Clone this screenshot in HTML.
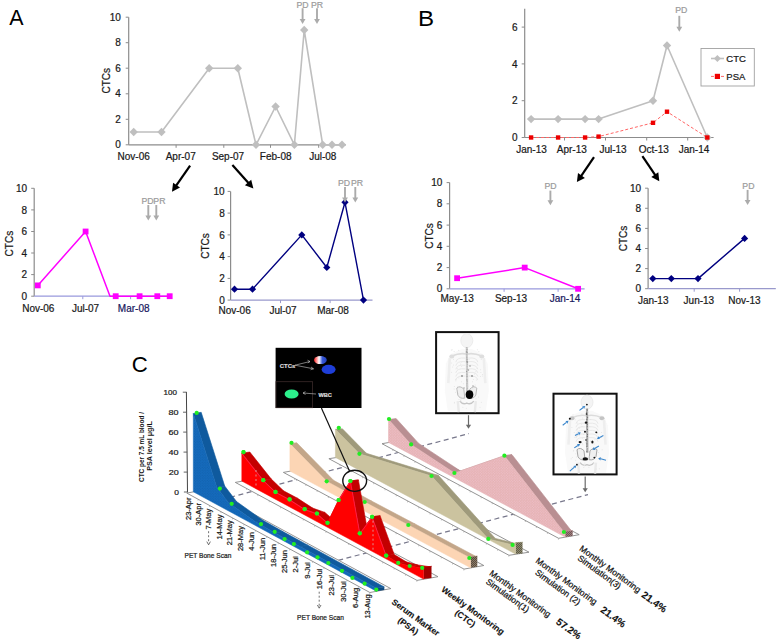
<!DOCTYPE html>
<html><head><meta charset="utf-8"><style>
html,body{margin:0;padding:0;background:#fff;overflow:hidden;}
svg{display:block;font-family:"Liberation Sans", sans-serif;}
</style></head><body>
<svg width="778" height="642" viewBox="0 0 778 642">
<rect width="778" height="642" fill="#fff"/>
<text x="16.5" y="25.4" font-size="21.4" fill="#000" stroke="none" text-anchor="middle">A</text>
<line x1="128.7" y1="17.2" x2="128.7" y2="144.8" stroke="#8c8c8c" stroke-width="1.2"/>
<line x1="125.69999999999999" y1="144.8" x2="128.7" y2="144.8" stroke="#8c8c8c" stroke-width="1"/>
<text x="120.8" y="148.4" font-size="10" text-anchor="end" fill="#1a1a1a" font-weight="normal"  stroke="#1a1a1a" stroke-width="0.22">0</text>
<line x1="125.69999999999999" y1="119.3" x2="128.7" y2="119.3" stroke="#8c8c8c" stroke-width="1"/>
<text x="120.8" y="122.9" font-size="10" text-anchor="end" fill="#1a1a1a" font-weight="normal"  stroke="#1a1a1a" stroke-width="0.22">2</text>
<line x1="125.69999999999999" y1="93.8" x2="128.7" y2="93.8" stroke="#8c8c8c" stroke-width="1"/>
<text x="120.8" y="97.4" font-size="10" text-anchor="end" fill="#1a1a1a" font-weight="normal"  stroke="#1a1a1a" stroke-width="0.22">4</text>
<line x1="125.69999999999999" y1="68.2" x2="128.7" y2="68.2" stroke="#8c8c8c" stroke-width="1"/>
<text x="120.8" y="71.8" font-size="10" text-anchor="end" fill="#1a1a1a" font-weight="normal"  stroke="#1a1a1a" stroke-width="0.22">6</text>
<line x1="125.69999999999999" y1="42.7" x2="128.7" y2="42.7" stroke="#8c8c8c" stroke-width="1"/>
<text x="120.8" y="46.3" font-size="10" text-anchor="end" fill="#1a1a1a" font-weight="normal"  stroke="#1a1a1a" stroke-width="0.22">8</text>
<line x1="125.69999999999999" y1="17.2" x2="128.7" y2="17.2" stroke="#8c8c8c" stroke-width="1"/>
<text x="120.8" y="20.8" font-size="10" text-anchor="end" fill="#1a1a1a" font-weight="normal"  stroke="#1a1a1a" stroke-width="0.22">10</text>
<text x="0" y="0" font-size="10" text-anchor="middle" fill="#1a1a1a" transform="translate(106.4,80.8) rotate(-90)" dominant-baseline="central" stroke="#1a1a1a" stroke-width="0.22">CTCs</text>
<line x1="128.7" y1="144.8" x2="345.8" y2="144.8" stroke="#8c8c8c" stroke-width="1.2"/>
<line x1="176.1" y1="144.8" x2="176.1" y2="147.8" stroke="#8c8c8c" stroke-width="1"/>
<line x1="223.8" y1="144.8" x2="223.8" y2="147.8" stroke="#8c8c8c" stroke-width="1"/>
<line x1="270.5" y1="144.8" x2="270.5" y2="147.8" stroke="#8c8c8c" stroke-width="1"/>
<line x1="318.7" y1="144.8" x2="318.7" y2="147.8" stroke="#8c8c8c" stroke-width="1"/>
<text x="133.7" y="160.0" font-size="10" text-anchor="middle" fill="#1a1a1a" font-weight="normal"  stroke="#1a1a1a" stroke-width="0.22">Nov-06</text>
<text x="180.7" y="160.0" font-size="10" text-anchor="middle" fill="#1a1a1a" font-weight="normal"  stroke="#1a1a1a" stroke-width="0.22">Apr-07</text>
<text x="228.0" y="160.0" font-size="10" text-anchor="middle" fill="#1a1a1a" font-weight="normal"  stroke="#1a1a1a" stroke-width="0.22">Sep-07</text>
<text x="275.7" y="160.0" font-size="10" text-anchor="middle" fill="#1a1a1a" font-weight="normal"  stroke="#1a1a1a" stroke-width="0.22">Feb-08</text>
<text x="322.8" y="160.0" font-size="10" text-anchor="middle" fill="#1a1a1a" font-weight="normal"  stroke="#1a1a1a" stroke-width="0.22">Jul-08</text>
<polyline points="133.7,132.0 161.5,132.0 209.2,68.2 237.8,68.2 256.0,144.8 275.6,106.5 294.4,144.8 304.2,30.0 322.7,144.8 332.0,144.8 342.0,144.8" fill="none" stroke="#bfbfbf" stroke-width="1.6"  stroke-linejoin="round"/>
<path d="M133.7 127.8L137.9 132.0L133.7 136.2L129.5 132.0Z" fill="#bfbfbf"/>
<path d="M161.5 127.8L165.7 132.0L161.5 136.2L157.3 132.0Z" fill="#bfbfbf"/>
<path d="M209.2 64.0L213.4 68.2L209.2 72.4L205.0 68.2Z" fill="#bfbfbf"/>
<path d="M237.8 64.0L242.0 68.2L237.8 72.4L233.6 68.2Z" fill="#bfbfbf"/>
<path d="M256.0 140.6L260.2 144.8L256.0 149.0L251.8 144.8Z" fill="#bfbfbf"/>
<path d="M275.6 102.3L279.8 106.5L275.6 110.7L271.4 106.5Z" fill="#bfbfbf"/>
<path d="M294.4 140.6L298.6 144.8L294.4 149.0L290.2 144.8Z" fill="#bfbfbf"/>
<path d="M304.2 25.8L308.4 30.0L304.2 34.2L300.0 30.0Z" fill="#bfbfbf"/>
<path d="M322.7 140.6L326.9 144.8L322.7 149.0L318.5 144.8Z" fill="#bfbfbf"/>
<path d="M332.0 140.6L336.2 144.8L332.0 149.0L327.8 144.8Z" fill="#bfbfbf"/>
<path d="M342.0 140.6L346.2 144.8L342.0 149.0L337.8 144.8Z" fill="#bfbfbf"/>
<text x="302.6" y="8.0" font-size="8.2" text-anchor="middle" fill="#9c9c9c" font-weight="normal" textLength="12.1" lengthAdjust="spacingAndGlyphs" stroke="#9c9c9c" stroke-width="0.22">PD</text>
<line x1="302.6" y1="8.2" x2="302.6" y2="21" stroke="#ababab" stroke-width="1.9"/>
<path d="M299.70000000000005 19L305.5 19L302.6 24Z" fill="#ababab"/>
<text x="317.0" y="8.0" font-size="8.2" text-anchor="middle" fill="#9c9c9c" font-weight="normal" textLength="12.1" lengthAdjust="spacingAndGlyphs" stroke="#9c9c9c" stroke-width="0.22">PR</text>
<line x1="317" y1="8.2" x2="317" y2="21" stroke="#ababab" stroke-width="1.9"/>
<path d="M314.1 19L319.9 19L317 24Z" fill="#ababab"/>
<line x1="34.2" y1="188.3" x2="34.2" y2="296.2" stroke="#8c8c8c" stroke-width="1.2"/>
<line x1="31.200000000000003" y1="296.2" x2="34.2" y2="296.2" stroke="#8c8c8c" stroke-width="1"/>
<text x="27.0" y="299.8" font-size="10" text-anchor="end" fill="#1a1a1a" font-weight="normal"  stroke="#1a1a1a" stroke-width="0.22">0</text>
<line x1="31.200000000000003" y1="274.6" x2="34.2" y2="274.6" stroke="#8c8c8c" stroke-width="1"/>
<text x="27.0" y="278.2" font-size="10" text-anchor="end" fill="#1a1a1a" font-weight="normal"  stroke="#1a1a1a" stroke-width="0.22">2</text>
<line x1="31.200000000000003" y1="253.0" x2="34.2" y2="253.0" stroke="#8c8c8c" stroke-width="1"/>
<text x="27.0" y="256.6" font-size="10" text-anchor="end" fill="#1a1a1a" font-weight="normal"  stroke="#1a1a1a" stroke-width="0.22">4</text>
<line x1="31.200000000000003" y1="231.5" x2="34.2" y2="231.5" stroke="#8c8c8c" stroke-width="1"/>
<text x="27.0" y="235.1" font-size="10" text-anchor="end" fill="#1a1a1a" font-weight="normal"  stroke="#1a1a1a" stroke-width="0.22">6</text>
<line x1="31.200000000000003" y1="209.9" x2="34.2" y2="209.9" stroke="#8c8c8c" stroke-width="1"/>
<text x="27.0" y="213.5" font-size="10" text-anchor="end" fill="#1a1a1a" font-weight="normal"  stroke="#1a1a1a" stroke-width="0.22">8</text>
<line x1="31.200000000000003" y1="188.3" x2="34.2" y2="188.3" stroke="#8c8c8c" stroke-width="1"/>
<text x="27.0" y="191.9" font-size="10" text-anchor="end" fill="#1a1a1a" font-weight="normal"  stroke="#1a1a1a" stroke-width="0.22">10</text>
<text x="0" y="0" font-size="10" text-anchor="middle" fill="#1a1a1a" transform="translate(9,243.6) rotate(-90)" dominant-baseline="central" stroke="#1a1a1a" stroke-width="0.22">CTCs</text>
<line x1="34.2" y1="296.2" x2="172" y2="296.2" stroke="#9999dd" stroke-width="1.2"/>
<line x1="82.8" y1="296.2" x2="82.8" y2="299.2" stroke="#9999dd" stroke-width="1"/>
<line x1="130.6" y1="296.2" x2="130.6" y2="299.2" stroke="#9999dd" stroke-width="1"/>
<text x="38.3" y="312.0" font-size="10" text-anchor="middle" fill="#1a1a1a" font-weight="normal"  stroke="#1a1a1a" stroke-width="0.22">Nov-06</text>
<text x="85.5" y="312.0" font-size="10" text-anchor="middle" fill="#1a1a1a" font-weight="normal"  stroke="#1a1a1a" stroke-width="0.22">Jul-07</text>
<text x="133.7" y="312.0" font-size="10" text-anchor="middle" fill="#18185e" font-weight="normal"  stroke="#18185e" stroke-width="0.22">Mar-08</text>
<polyline points="37.8,285.4 85.6,231.5 110.0,296.2 169.7,296.2" fill="none" stroke="#ff00ff" stroke-width="1.5"  stroke-linejoin="round"/>
<rect x="34.9" y="282.5" width="5.8" height="5.8" fill="#ff00ff"/>
<rect x="82.7" y="228.6" width="5.8" height="5.8" fill="#ff00ff"/>
<rect x="112.8" y="293.3" width="5.8" height="5.8" fill="#ff00ff"/>
<rect x="136.7" y="293.3" width="5.8" height="5.8" fill="#ff00ff"/>
<rect x="154.4" y="293.3" width="5.8" height="5.8" fill="#ff00ff"/>
<rect x="166.8" y="293.3" width="5.8" height="5.8" fill="#ff00ff"/>
<text x="147.6" y="203.7" font-size="8.2" text-anchor="middle" fill="#9c9c9c" font-weight="normal" textLength="12.1" lengthAdjust="spacingAndGlyphs" stroke="#9c9c9c" stroke-width="0.22">PD</text>
<line x1="148.3" y1="205" x2="148.3" y2="217.4" stroke="#ababab" stroke-width="1.9"/>
<path d="M145.4 215.4L151.20000000000002 215.4L148.3 220.4Z" fill="#ababab"/>
<text x="159.4" y="203.7" font-size="8.2" text-anchor="middle" fill="#9c9c9c" font-weight="normal" textLength="12.1" lengthAdjust="spacingAndGlyphs" stroke="#9c9c9c" stroke-width="0.22">PR</text>
<line x1="156.3" y1="205" x2="156.3" y2="217.4" stroke="#ababab" stroke-width="1.9"/>
<path d="M153.4 215.4L159.20000000000002 215.4L156.3 220.4Z" fill="#ababab"/>
<line x1="230.6" y1="191.4" x2="230.6" y2="300.1" stroke="#8c8c8c" stroke-width="1.2"/>
<line x1="227.6" y1="300.1" x2="230.6" y2="300.1" stroke="#8c8c8c" stroke-width="1"/>
<text x="224.7" y="303.7" font-size="10" text-anchor="end" fill="#1a1a1a" font-weight="normal"  stroke="#1a1a1a" stroke-width="0.22">0</text>
<line x1="227.6" y1="278.4" x2="230.6" y2="278.4" stroke="#8c8c8c" stroke-width="1"/>
<text x="224.7" y="282.0" font-size="10" text-anchor="end" fill="#1a1a1a" font-weight="normal"  stroke="#1a1a1a" stroke-width="0.22">2</text>
<line x1="227.6" y1="256.6" x2="230.6" y2="256.6" stroke="#8c8c8c" stroke-width="1"/>
<text x="224.7" y="260.2" font-size="10" text-anchor="end" fill="#1a1a1a" font-weight="normal"  stroke="#1a1a1a" stroke-width="0.22">4</text>
<line x1="227.6" y1="234.9" x2="230.6" y2="234.9" stroke="#8c8c8c" stroke-width="1"/>
<text x="224.7" y="238.5" font-size="10" text-anchor="end" fill="#1a1a1a" font-weight="normal"  stroke="#1a1a1a" stroke-width="0.22">6</text>
<line x1="227.6" y1="213.1" x2="230.6" y2="213.1" stroke="#8c8c8c" stroke-width="1"/>
<text x="224.7" y="216.7" font-size="10" text-anchor="end" fill="#1a1a1a" font-weight="normal"  stroke="#1a1a1a" stroke-width="0.22">8</text>
<line x1="227.6" y1="191.4" x2="230.6" y2="191.4" stroke="#8c8c8c" stroke-width="1"/>
<text x="224.7" y="195.0" font-size="10" text-anchor="end" fill="#1a1a1a" font-weight="normal"  stroke="#1a1a1a" stroke-width="0.22">10</text>
<text x="0" y="0" font-size="10" text-anchor="middle" fill="#1a1a1a" transform="translate(205.4,246) rotate(-90)" dominant-baseline="central" stroke="#1a1a1a" stroke-width="0.22">CTCs</text>
<line x1="230.6" y1="300.1" x2="372.5" y2="300.1" stroke="#9999cc" stroke-width="1.2"/>
<line x1="280.5" y1="300.1" x2="280.5" y2="303.1" stroke="#9999cc" stroke-width="1"/>
<line x1="330.1" y1="300.1" x2="330.1" y2="303.1" stroke="#9999cc" stroke-width="1"/>
<text x="234.6" y="314.0" font-size="10" text-anchor="middle" fill="#1a1a1a" font-weight="normal"  stroke="#1a1a1a" stroke-width="0.22">Nov-06</text>
<text x="283.0" y="314.0" font-size="10" text-anchor="middle" fill="#1a1a1a" font-weight="normal"  stroke="#1a1a1a" stroke-width="0.22">Jul-07</text>
<text x="333.0" y="314.0" font-size="10" text-anchor="middle" fill="#1a1a1a" font-weight="normal"  stroke="#1a1a1a" stroke-width="0.22">Mar-08</text>
<polyline points="234.5,289.2 252.5,289.2 301.8,234.9 326.8,267.5 345.0,202.3 363.5,300.1" fill="none" stroke="#000080" stroke-width="1.4"  stroke-linejoin="round"/>
<path d="M234.5 285.6L238.1 289.2L234.5 292.8L230.9 289.2Z" fill="#000080"/>
<path d="M252.5 285.6L256.1 289.2L252.5 292.8L248.9 289.2Z" fill="#000080"/>
<path d="M301.8 231.3L305.4 234.9L301.8 238.5L298.2 234.9Z" fill="#000080"/>
<path d="M326.8 263.9L330.4 267.5L326.8 271.1L323.2 267.5Z" fill="#000080"/>
<path d="M345.0 198.7L348.6 202.3L345.0 205.9L341.4 202.3Z" fill="#000080"/>
<path d="M363.5 296.5L367.1 300.1L363.5 303.7L359.9 300.1Z" fill="#000080"/>
<text x="344.1" y="185.7" font-size="8.2" text-anchor="middle" fill="#9c9c9c" font-weight="normal" textLength="12.1" lengthAdjust="spacingAndGlyphs" stroke="#9c9c9c" stroke-width="0.22">PD</text>
<line x1="345" y1="187" x2="345" y2="199.4" stroke="#ababab" stroke-width="1.9"/>
<path d="M342.1 197.4L347.9 197.4L345 202.4Z" fill="#ababab"/>
<text x="357.1" y="185.7" font-size="8.2" text-anchor="middle" fill="#9c9c9c" font-weight="normal" textLength="12.1" lengthAdjust="spacingAndGlyphs" stroke="#9c9c9c" stroke-width="0.22">PR</text>
<line x1="355.3" y1="187" x2="355.3" y2="199.4" stroke="#ababab" stroke-width="1.9"/>
<path d="M352.40000000000003 197.4L358.2 197.4L355.3 202.4Z" fill="#ababab"/>
<line x1="190.1" y1="165.6" x2="176.0" y2="185.9" stroke="#000" stroke-width="2.2"/><path d="M172.0 191.7L173.1 182.7L180.0 187.5Z" fill="#000"/>
<line x1="232.4" y1="164.9" x2="248.7" y2="183.3" stroke="#000" stroke-width="2.2"/><path d="M253.4 188.5L244.9 185.3L251.2 179.7Z" fill="#000"/>
<text x="418.1" y="25.7" font-size="21.5" fill="#000" stroke="none" textLength="16.1" lengthAdjust="spacingAndGlyphs">B</text>
<line x1="524.7" y1="8.7" x2="524.7" y2="137.5" stroke="#8c8c8c" stroke-width="1.2"/>
<line x1="521.7" y1="137.5" x2="524.7" y2="137.5" stroke="#8c8c8c" stroke-width="1"/>
<text x="517.5" y="141.1" font-size="10" text-anchor="end" fill="#1a1a1a" font-weight="normal"  stroke="#1a1a1a" stroke-width="0.22">0</text>
<line x1="521.7" y1="100.7" x2="524.7" y2="100.7" stroke="#8c8c8c" stroke-width="1"/>
<text x="517.5" y="104.3" font-size="10" text-anchor="end" fill="#1a1a1a" font-weight="normal"  stroke="#1a1a1a" stroke-width="0.22">2</text>
<line x1="521.7" y1="63.9" x2="524.7" y2="63.9" stroke="#8c8c8c" stroke-width="1"/>
<text x="517.5" y="67.5" font-size="10" text-anchor="end" fill="#1a1a1a" font-weight="normal"  stroke="#1a1a1a" stroke-width="0.22">4</text>
<line x1="521.7" y1="27.1" x2="524.7" y2="27.1" stroke="#8c8c8c" stroke-width="1"/>
<text x="517.5" y="30.7" font-size="10" text-anchor="end" fill="#1a1a1a" font-weight="normal"  stroke="#1a1a1a" stroke-width="0.22">6</text>
<line x1="524.7" y1="137.5" x2="713.6" y2="137.5" stroke="#8c8c8c" stroke-width="1.2"/>
<line x1="564.5" y1="137.5" x2="564.5" y2="140.5" stroke="#8c8c8c" stroke-width="1"/>
<line x1="605.5" y1="137.5" x2="605.5" y2="140.5" stroke="#8c8c8c" stroke-width="1"/>
<line x1="646.7" y1="137.5" x2="646.7" y2="140.5" stroke="#8c8c8c" stroke-width="1"/>
<line x1="687.7" y1="137.5" x2="687.7" y2="140.5" stroke="#8c8c8c" stroke-width="1"/>
<text x="531.5" y="153.0" font-size="10" text-anchor="middle" fill="#1a1a1a" font-weight="normal"  stroke="#1a1a1a" stroke-width="0.22">Jan-13</text>
<text x="571.8" y="153.0" font-size="10" text-anchor="middle" fill="#1a1a1a" font-weight="normal"  stroke="#1a1a1a" stroke-width="0.22">Apr-13</text>
<text x="613.0" y="153.0" font-size="10" text-anchor="middle" fill="#1a1a1a" font-weight="normal"  stroke="#1a1a1a" stroke-width="0.22">Jul-13</text>
<text x="653.8" y="153.0" font-size="10" text-anchor="middle" fill="#1a1a1a" font-weight="normal"  stroke="#1a1a1a" stroke-width="0.22">Oct-13</text>
<text x="694.0" y="153.0" font-size="10" text-anchor="middle" fill="#1a1a1a" font-weight="normal"  stroke="#1a1a1a" stroke-width="0.22">Jan-14</text>
<polyline points="531.1,119.1 558.1,119.1 585.1,119.1 598.6,119.1 653.0,100.7 667.0,45.5 707.3,137.5" fill="none" stroke="#bfbfbf" stroke-width="1.6"  stroke-linejoin="round"/>
<path d="M531.1 114.9L535.3 119.1L531.1 123.3L526.9 119.1Z" fill="#bfbfbf"/>
<path d="M558.1 114.9L562.3 119.1L558.1 123.3L553.9 119.1Z" fill="#bfbfbf"/>
<path d="M585.1 114.9L589.3 119.1L585.1 123.3L580.9 119.1Z" fill="#bfbfbf"/>
<path d="M598.6 114.9L602.8 119.1L598.6 123.3L594.4 119.1Z" fill="#bfbfbf"/>
<path d="M653.0 96.5L657.2 100.7L653.0 104.9L648.8 100.7Z" fill="#bfbfbf"/>
<path d="M667.0 41.3L671.2 45.5L667.0 49.7L662.8 45.5Z" fill="#bfbfbf"/>
<path d="M707.3 133.3L711.5 137.5L707.3 141.7L703.1 137.5Z" fill="#bfbfbf"/>
<polyline points="531.1,137.5 558.1,137.5 585.1,137.5 598.6,136.6 653.0,122.8 667.0,111.7 707.3,137.5" fill="none" stroke="#ff6666" stroke-width="1" stroke-dasharray="3,2" stroke-linejoin="round"/>
<rect x="528.9" y="135.3" width="4.4" height="4.4" fill="#ee0000"/>
<rect x="555.9" y="135.3" width="4.4" height="4.4" fill="#ee0000"/>
<rect x="582.9" y="135.3" width="4.4" height="4.4" fill="#ee0000"/>
<rect x="596.4" y="134.4" width="4.4" height="4.4" fill="#ee0000"/>
<rect x="650.8" y="120.6" width="4.4" height="4.4" fill="#ee0000"/>
<rect x="664.8" y="109.5" width="4.4" height="4.4" fill="#ee0000"/>
<rect x="705.1" y="135.3" width="4.4" height="4.4" fill="#ee0000"/>
<text x="681.2" y="12.7" font-size="8.2" text-anchor="middle" fill="#9c9c9c" font-weight="normal" textLength="12.1" lengthAdjust="spacingAndGlyphs" stroke="#9c9c9c" stroke-width="0.22">PD</text>
<line x1="679.3" y1="15.8" x2="679.3" y2="28.8" stroke="#ababab" stroke-width="1.9"/>
<path d="M676.4 26.8L682.1999999999999 26.8L679.3 31.8Z" fill="#ababab"/>
<rect x="701" y="48.5" width="53.3" height="37.5" fill="#fff" stroke="#a0a0a0" stroke-width="0.9"/>
<line x1="711" y1="58.5" x2="724" y2="58.5" stroke="#bfbfbf" stroke-width="1.6"/><path d="M717.4 55.0L720.9 58.5L717.4 62.0L713.9 58.5Z" fill="#bfbfbf"/>
<text x="726.3" y="62.0" font-size="9.5" text-anchor="start" fill="#1a1a1a" font-weight="normal"  stroke="#1a1a1a" stroke-width="0.22">CTC</text>
<line x1="711" y1="76.4" x2="724" y2="76.4" stroke="#ff6666" stroke-width="1" stroke-dasharray="3,2"/><rect x="714.8" y="73.8" width="5.2" height="5.2" fill="#ee0000"/>
<text x="726.3" y="80.0" font-size="9.5" text-anchor="start" fill="#1a1a1a" font-weight="normal"  stroke="#1a1a1a" stroke-width="0.22">PSA</text>
<line x1="449.6" y1="182.6" x2="449.6" y2="288.8" stroke="#8c8c8c" stroke-width="1.2"/>
<line x1="446.6" y1="288.8" x2="449.6" y2="288.8" stroke="#8c8c8c" stroke-width="1"/>
<text x="442.4" y="292.4" font-size="10" text-anchor="end" fill="#1a1a1a" font-weight="normal"  stroke="#1a1a1a" stroke-width="0.22">0</text>
<line x1="446.6" y1="267.6" x2="449.6" y2="267.6" stroke="#8c8c8c" stroke-width="1"/>
<text x="442.4" y="271.2" font-size="10" text-anchor="end" fill="#1a1a1a" font-weight="normal"  stroke="#1a1a1a" stroke-width="0.22">2</text>
<line x1="446.6" y1="246.3" x2="449.6" y2="246.3" stroke="#8c8c8c" stroke-width="1"/>
<text x="442.4" y="249.9" font-size="10" text-anchor="end" fill="#1a1a1a" font-weight="normal"  stroke="#1a1a1a" stroke-width="0.22">4</text>
<line x1="446.6" y1="225.1" x2="449.6" y2="225.1" stroke="#8c8c8c" stroke-width="1"/>
<text x="442.4" y="228.7" font-size="10" text-anchor="end" fill="#1a1a1a" font-weight="normal"  stroke="#1a1a1a" stroke-width="0.22">6</text>
<line x1="446.6" y1="203.8" x2="449.6" y2="203.8" stroke="#8c8c8c" stroke-width="1"/>
<text x="442.4" y="207.4" font-size="10" text-anchor="end" fill="#1a1a1a" font-weight="normal"  stroke="#1a1a1a" stroke-width="0.22">8</text>
<line x1="446.6" y1="182.6" x2="449.6" y2="182.6" stroke="#8c8c8c" stroke-width="1"/>
<text x="442.4" y="186.2" font-size="10" text-anchor="end" fill="#1a1a1a" font-weight="normal"  stroke="#1a1a1a" stroke-width="0.22">10</text>
<text x="0" y="0" font-size="10" text-anchor="middle" fill="#1a1a1a" transform="translate(429.8,236) rotate(-90)" dominant-baseline="central" stroke="#1a1a1a" stroke-width="0.22">CTCs</text>
<line x1="449.6" y1="288.8" x2="584.6" y2="288.8" stroke="#9999dd" stroke-width="1.2"/>
<line x1="504.1" y1="288.8" x2="504.1" y2="291.8" stroke="#9999dd" stroke-width="1"/>
<line x1="558.1" y1="288.8" x2="558.1" y2="291.8" stroke="#9999dd" stroke-width="1"/>
<text x="457.2" y="302.0" font-size="10" text-anchor="middle" fill="#1a1a1a" font-weight="normal"  stroke="#1a1a1a" stroke-width="0.22">May-13</text>
<text x="511.0" y="302.0" font-size="10" text-anchor="middle" fill="#1a1a1a" font-weight="normal"  stroke="#1a1a1a" stroke-width="0.22">Sep-13</text>
<text x="565.0" y="302.0" font-size="10" text-anchor="middle" fill="#18185e" font-weight="normal"  stroke="#18185e" stroke-width="0.22">Jan-14</text>
<polyline points="457.1,278.2 524.7,267.6 578.1,288.8" fill="none" stroke="#ff00ff" stroke-width="1.5"  stroke-linejoin="round"/>
<rect x="454.2" y="275.3" width="5.8" height="5.8" fill="#ff00ff"/>
<rect x="521.8" y="264.7" width="5.8" height="5.8" fill="#ff00ff"/>
<rect x="575.2" y="285.9" width="5.8" height="5.8" fill="#ff00ff"/>
<text x="550.6" y="188.6" font-size="8.2" text-anchor="middle" fill="#9c9c9c" font-weight="normal" textLength="12.1" lengthAdjust="spacingAndGlyphs" stroke="#9c9c9c" stroke-width="0.22">PD</text>
<line x1="550.4" y1="190.6" x2="550.4" y2="202.3" stroke="#ababab" stroke-width="1.9"/>
<path d="M547.5 200.3L553.3 200.3L550.4 205.3Z" fill="#ababab"/>
<line x1="648.1" y1="188.2" x2="648.1" y2="288.7" stroke="#8c8c8c" stroke-width="1.2"/>
<line x1="645.1" y1="288.7" x2="648.1" y2="288.7" stroke="#8c8c8c" stroke-width="1"/>
<text x="641.0" y="292.3" font-size="10" text-anchor="end" fill="#1a1a1a" font-weight="normal"  stroke="#1a1a1a" stroke-width="0.22">0</text>
<line x1="645.1" y1="268.6" x2="648.1" y2="268.6" stroke="#8c8c8c" stroke-width="1"/>
<text x="641.0" y="272.2" font-size="10" text-anchor="end" fill="#1a1a1a" font-weight="normal"  stroke="#1a1a1a" stroke-width="0.22">2</text>
<line x1="645.1" y1="248.5" x2="648.1" y2="248.5" stroke="#8c8c8c" stroke-width="1"/>
<text x="641.0" y="252.1" font-size="10" text-anchor="end" fill="#1a1a1a" font-weight="normal"  stroke="#1a1a1a" stroke-width="0.22">4</text>
<line x1="645.1" y1="228.4" x2="648.1" y2="228.4" stroke="#8c8c8c" stroke-width="1"/>
<text x="641.0" y="232.0" font-size="10" text-anchor="end" fill="#1a1a1a" font-weight="normal"  stroke="#1a1a1a" stroke-width="0.22">6</text>
<line x1="645.1" y1="208.3" x2="648.1" y2="208.3" stroke="#8c8c8c" stroke-width="1"/>
<text x="641.0" y="211.9" font-size="10" text-anchor="end" fill="#1a1a1a" font-weight="normal"  stroke="#1a1a1a" stroke-width="0.22">8</text>
<line x1="645.1" y1="188.2" x2="648.1" y2="188.2" stroke="#8c8c8c" stroke-width="1"/>
<text x="641.0" y="191.8" font-size="10" text-anchor="end" fill="#1a1a1a" font-weight="normal"  stroke="#1a1a1a" stroke-width="0.22">10</text>
<text x="0" y="0" font-size="10" text-anchor="middle" fill="#1a1a1a" transform="translate(623.9,238.5) rotate(-90)" dominant-baseline="central" stroke="#1a1a1a" stroke-width="0.22">CTCs</text>
<line x1="648.1" y1="288.7" x2="775.8" y2="288.7" stroke="#9999cc" stroke-width="1.2"/>
<line x1="694.2" y1="288.7" x2="694.2" y2="291.7" stroke="#9999cc" stroke-width="1"/>
<line x1="739.6" y1="288.7" x2="739.6" y2="291.7" stroke="#9999cc" stroke-width="1"/>
<text x="653.2" y="304.0" font-size="10" text-anchor="middle" fill="#1a1a1a" font-weight="normal"  stroke="#1a1a1a" stroke-width="0.22">Jan-13</text>
<text x="698.9" y="304.0" font-size="10" text-anchor="middle" fill="#1a1a1a" font-weight="normal"  stroke="#1a1a1a" stroke-width="0.22">Jun-13</text>
<text x="744.4" y="304.0" font-size="10" text-anchor="middle" fill="#1a1a1a" font-weight="normal"  stroke="#1a1a1a" stroke-width="0.22">Nov-13</text>
<polyline points="652.8,278.6 671.3,278.6 698.0,278.6 744.6,238.4" fill="none" stroke="#000080" stroke-width="1.4"  stroke-linejoin="round"/>
<path d="M652.8 275.0L656.4 278.6L652.8 282.2L649.2 278.6Z" fill="#000080"/>
<path d="M671.3 275.0L674.9 278.6L671.3 282.2L667.7 278.6Z" fill="#000080"/>
<path d="M698.0 275.0L701.6 278.6L698.0 282.2L694.4 278.6Z" fill="#000080"/>
<path d="M744.6 234.8L748.2 238.4L744.6 242.0L741.0 238.4Z" fill="#000080"/>
<text x="748.4" y="188.7" font-size="8.2" text-anchor="middle" fill="#9c9c9c" font-weight="normal" textLength="12.1" lengthAdjust="spacingAndGlyphs" stroke="#9c9c9c" stroke-width="0.22">PD</text>
<line x1="747.6" y1="189.9" x2="747.6" y2="201.9" stroke="#ababab" stroke-width="1.9"/>
<path d="M744.7 199.9L750.5 199.9L747.6 204.9Z" fill="#ababab"/>
<line x1="594.0" y1="157.2" x2="580.9" y2="176.3" stroke="#000" stroke-width="2.2"/><path d="M576.9 182.1L578.0 173.1L584.9 177.9Z" fill="#000"/>
<line x1="642.4" y1="156.2" x2="655.4" y2="175.4" stroke="#000" stroke-width="2.2"/><path d="M659.3 181.2L651.3 176.9L658.3 172.2Z" fill="#000"/>
<text x="131.8" y="372.3" font-size="22.2" fill="#000" stroke="none">C</text>
<defs>
<pattern id="pkdots" width="2.6" height="2.6" patternUnits="userSpaceOnUse"><rect width="2.6" height="2.6" fill="#e5b1b2"/><circle cx="0.65" cy="0.65" r="0.6" fill="#f0c4cf"/><circle cx="1.95" cy="1.95" r="0.6" fill="#f0c4cf"/></pattern>
<pattern id="bldots" width="2.6" height="2.6" patternUnits="userSpaceOnUse"><rect width="2.6" height="2.6" fill="#156bbd"/><circle cx="0.65" cy="0.65" r="0.5" fill="#0f5aa3"/><circle cx="1.95" cy="1.95" r="0.5" fill="#0f5aa3"/></pattern>
<pattern id="capchk" width="2" height="2" patternUnits="userSpaceOnUse"><rect width="2" height="2" fill="#8a7a66"/><rect width="1" height="1" fill="#5a4c40"/><rect x="1" y="1" width="1" height="1" fill="#5a4c40"/></pattern>
<pattern id="capchk2" width="2" height="2" patternUnits="userSpaceOnUse"><rect width="2" height="2" fill="#8e8a6e"/><rect width="1" height="1" fill="#5c5946"/><rect x="1" y="1" width="1" height="1" fill="#5c5946"/></pattern>
<pattern id="capchk3" width="2" height="2" patternUnits="userSpaceOnUse"><rect width="2" height="2" fill="#a07c7c"/><rect width="1" height="1" fill="#6e5656"/><rect x="1" y="1" width="1" height="1" fill="#6e5656"/></pattern>
</defs>
<line x1="186.4" y1="391.9" x2="187.5" y2="492.5" stroke="#444" stroke-width="1"/>
<line x1="183.9" y1="492.0" x2="187.5" y2="492.0" stroke="#555" stroke-width="0.9"/>
<text x="174.2" y="494.6" font-size="7.4" fill="#222" textLength="4.7" lengthAdjust="spacingAndGlyphs" stroke="#222" stroke-width="0.22">0</text>
<line x1="183.7" y1="472.1" x2="187.3" y2="472.1" stroke="#555" stroke-width="0.9"/>
<text x="168.8" y="474.7" font-size="7.4" fill="#222" textLength="10.0" lengthAdjust="spacingAndGlyphs" stroke="#222" stroke-width="0.22">20</text>
<line x1="183.5" y1="452.1" x2="187.1" y2="452.1" stroke="#555" stroke-width="0.9"/>
<text x="168.6" y="454.7" font-size="7.4" fill="#222" textLength="10.0" lengthAdjust="spacingAndGlyphs" stroke="#222" stroke-width="0.22">40</text>
<line x1="183.2" y1="432.1" x2="186.8" y2="432.1" stroke="#555" stroke-width="0.9"/>
<text x="168.4" y="434.8" font-size="7.4" fill="#222" textLength="10.0" lengthAdjust="spacingAndGlyphs" stroke="#222" stroke-width="0.22">60</text>
<line x1="183.0" y1="412.2" x2="186.6" y2="412.2" stroke="#555" stroke-width="0.9"/>
<text x="168.4" y="414.8" font-size="7.4" fill="#222" textLength="10.0" lengthAdjust="spacingAndGlyphs" stroke="#222" stroke-width="0.22">80</text>
<line x1="182.8" y1="392.2" x2="186.4" y2="392.2" stroke="#555" stroke-width="0.9"/>
<text x="163.5" y="394.9" font-size="7.4" fill="#222" textLength="13.4" lengthAdjust="spacingAndGlyphs" stroke="#222" stroke-width="0.22">100</text>
<text font-size="6.4" font-weight="bold" fill="#151515" stroke="none" text-anchor="middle" textLength="70" lengthAdjust="spacingAndGlyphs" transform="translate(143.7,447) rotate(-90)">CTC per 7.5 mL blood /</text>
<text font-size="6.4" font-weight="bold" fill="#151515" stroke="none" text-anchor="middle" textLength="49.5" lengthAdjust="spacingAndGlyphs" transform="translate(152.3,446) rotate(-90)">PSA level μg/L</text>
<line x1="222" y1="499.5" x2="469" y2="433.6" stroke="#78788c" stroke-width="1.25" stroke-dasharray="5,3.5"/>
<line x1="330" y1="562.5" x2="588" y2="494.6" stroke="#78788c" stroke-width="1.25" stroke-dasharray="5,3.5"/>
<polygon points="382.0,443.7 558.6,538.3 579.2,534.7 402.6,440.1" fill="#fff" stroke="#888" stroke-width="0.9"/>
<line x1="393.0" y1="449.6" x2="392.8" y2="451.0" stroke="#999" stroke-width="0.6"/>
<line x1="404.1" y1="455.5" x2="403.9" y2="456.9" stroke="#999" stroke-width="0.6"/>
<line x1="415.1" y1="461.4" x2="414.9" y2="462.8" stroke="#999" stroke-width="0.6"/>
<line x1="426.1" y1="467.3" x2="425.9" y2="468.7" stroke="#999" stroke-width="0.6"/>
<line x1="437.2" y1="473.3" x2="437.0" y2="474.7" stroke="#999" stroke-width="0.6"/>
<line x1="448.2" y1="479.2" x2="448.0" y2="480.6" stroke="#999" stroke-width="0.6"/>
<line x1="459.3" y1="485.1" x2="459.1" y2="486.5" stroke="#999" stroke-width="0.6"/>
<line x1="470.3" y1="491.0" x2="470.1" y2="492.4" stroke="#999" stroke-width="0.6"/>
<line x1="481.3" y1="496.9" x2="481.1" y2="498.3" stroke="#999" stroke-width="0.6"/>
<line x1="492.4" y1="502.8" x2="492.2" y2="504.2" stroke="#999" stroke-width="0.6"/>
<line x1="503.4" y1="508.7" x2="503.2" y2="510.1" stroke="#999" stroke-width="0.6"/>
<line x1="514.5" y1="514.6" x2="514.2" y2="516.0" stroke="#999" stroke-width="0.6"/>
<line x1="525.5" y1="520.6" x2="525.3" y2="522.0" stroke="#999" stroke-width="0.6"/>
<line x1="536.5" y1="526.5" x2="536.3" y2="527.9" stroke="#999" stroke-width="0.6"/>
<line x1="547.6" y1="532.4" x2="547.4" y2="533.8" stroke="#999" stroke-width="0.6"/>
<line x1="558.6" y1="538.3" x2="558.4" y2="539.7" stroke="#999" stroke-width="0.6"/>
<polygon points="388.5,419.5 411.1,444.4 418.7,443.4 396.1,418.5" fill="#b98f92" stroke="#b98f92" stroke-width="0.6" stroke-linejoin="round"/>
<polygon points="411.1,444.4 454.4,473.0 462.0,472.0 418.7,443.4" fill="#b98f92" stroke="#b98f92" stroke-width="0.6" stroke-linejoin="round"/>
<polygon points="454.4,473.0 504.4,455.7 512.0,454.7 462.0,472.0" fill="#b98f92" stroke="#b98f92" stroke-width="0.6" stroke-linejoin="round"/>
<polygon points="504.4,455.7 563.9,532.0 571.5,531.0 512.0,454.7" fill="#b98f92" stroke="#b98f92" stroke-width="0.6" stroke-linejoin="round"/>
<polygon points="563.9,532.0 565.1,531.8 572.7,530.8 571.5,531.0" fill="#b98f92" stroke="#b98f92" stroke-width="0.6" stroke-linejoin="round"/>
<polygon points="565.1,537.0 565.1,531.8 572.7,530.8 572.7,536.0" fill="url(#capchk3)"/>
<polygon points="388.5,442.4 388.5,419.5 411.1,444.4 454.4,473.0 504.4,455.7 563.9,532.0 565.1,531.8 565.1,537.0" fill="url(#pkdots)" stroke="#e7b4b6" stroke-width="0.5" stroke-linejoin="round" />
<circle cx="389.0" cy="419.0" r="2.1" fill="#22ee22"/>
<circle cx="411.1" cy="444.4" r="2.1" fill="#22ee22"/>
<circle cx="454.4" cy="473.0" r="2.1" fill="#22ee22"/>
<circle cx="504.4" cy="455.7" r="2.1" fill="#22ee22"/>
<circle cx="563.9" cy="532.0" r="2.1" fill="#22ee22"/>
<polygon points="328.9,458.7 509.0,555.3 529.0,552.2 348.9,455.6" fill="#fff" stroke="#888" stroke-width="0.9"/>
<line x1="340.2" y1="464.7" x2="340.0" y2="466.1" stroke="#999" stroke-width="0.6"/>
<line x1="351.4" y1="470.8" x2="351.2" y2="472.2" stroke="#999" stroke-width="0.6"/>
<line x1="362.7" y1="476.8" x2="362.5" y2="478.2" stroke="#999" stroke-width="0.6"/>
<line x1="373.9" y1="482.8" x2="373.7" y2="484.2" stroke="#999" stroke-width="0.6"/>
<line x1="385.2" y1="488.9" x2="385.0" y2="490.3" stroke="#999" stroke-width="0.6"/>
<line x1="396.4" y1="494.9" x2="396.2" y2="496.3" stroke="#999" stroke-width="0.6"/>
<line x1="407.7" y1="501.0" x2="407.5" y2="502.4" stroke="#999" stroke-width="0.6"/>
<line x1="418.9" y1="507.0" x2="418.8" y2="508.4" stroke="#999" stroke-width="0.6"/>
<line x1="430.2" y1="513.0" x2="430.0" y2="514.4" stroke="#999" stroke-width="0.6"/>
<line x1="441.5" y1="519.1" x2="441.3" y2="520.5" stroke="#999" stroke-width="0.6"/>
<line x1="452.7" y1="525.1" x2="452.5" y2="526.5" stroke="#999" stroke-width="0.6"/>
<line x1="464.0" y1="531.1" x2="463.8" y2="532.5" stroke="#999" stroke-width="0.6"/>
<line x1="475.2" y1="537.2" x2="475.0" y2="538.6" stroke="#999" stroke-width="0.6"/>
<line x1="486.5" y1="543.2" x2="486.3" y2="544.6" stroke="#999" stroke-width="0.6"/>
<line x1="497.7" y1="549.3" x2="497.5" y2="550.7" stroke="#999" stroke-width="0.6"/>
<line x1="509.0" y1="555.3" x2="508.8" y2="556.7" stroke="#999" stroke-width="0.6"/>
<polygon points="335.4,429.3 359.4,453.8 366.4,453.3 342.4,428.8" fill="#9f9a7b" stroke="#9f9a7b" stroke-width="0.6" stroke-linejoin="round"/>
<polygon points="359.4,453.8 431.5,476.0 438.5,475.5 366.4,453.3" fill="#9f9a7b" stroke="#9f9a7b" stroke-width="0.6" stroke-linejoin="round"/>
<polygon points="431.5,476.0 488.3,538.9 495.3,538.4 438.5,475.5" fill="#9f9a7b" stroke="#9f9a7b" stroke-width="0.6" stroke-linejoin="round"/>
<polygon points="488.3,538.9 512.6,544.9 519.6,544.4 495.3,538.4" fill="#9f9a7b" stroke="#9f9a7b" stroke-width="0.6" stroke-linejoin="round"/>
<polygon points="512.6,544.9 515.5,542.7 522.5,542.2 519.6,544.4" fill="#9f9a7b" stroke="#9f9a7b" stroke-width="0.6" stroke-linejoin="round"/>
<polygon points="515.5,554.0 515.5,542.7 522.5,542.2 522.5,553.5" fill="url(#capchk2)"/>
<polygon points="335.4,457.4 335.4,429.3 359.4,453.8 431.5,476.0 488.3,538.9 512.6,544.9 515.5,542.7 515.5,554.0" fill="#cbc39f" stroke="#cbc39f" stroke-width="0.5" stroke-linejoin="round" />
<circle cx="338.8" cy="427.8" r="2.1" fill="#22ee22"/>
<circle cx="359.4" cy="453.8" r="2.1" fill="#22ee22"/>
<circle cx="431.5" cy="476.0" r="2.1" fill="#22ee22"/>
<circle cx="488.3" cy="538.9" r="2.1" fill="#22ee22"/>
<circle cx="512.6" cy="544.9" r="2.1" fill="#22ee22"/>
<polygon points="283.4,472.4 464.0,569.1 483.8,565.5 303.2,468.8" fill="#fff" stroke="#888" stroke-width="0.9"/>
<line x1="294.7" y1="478.4" x2="294.5" y2="479.8" stroke="#999" stroke-width="0.6"/>
<line x1="306.0" y1="484.5" x2="305.8" y2="485.9" stroke="#999" stroke-width="0.6"/>
<line x1="317.3" y1="490.5" x2="317.1" y2="491.9" stroke="#999" stroke-width="0.6"/>
<line x1="328.5" y1="496.6" x2="328.3" y2="498.0" stroke="#999" stroke-width="0.6"/>
<line x1="339.8" y1="502.6" x2="339.6" y2="504.0" stroke="#999" stroke-width="0.6"/>
<line x1="351.1" y1="508.7" x2="350.9" y2="510.1" stroke="#999" stroke-width="0.6"/>
<line x1="362.4" y1="514.7" x2="362.2" y2="516.1" stroke="#999" stroke-width="0.6"/>
<line x1="373.7" y1="520.8" x2="373.5" y2="522.1" stroke="#999" stroke-width="0.6"/>
<line x1="385.0" y1="526.8" x2="384.8" y2="528.2" stroke="#999" stroke-width="0.6"/>
<line x1="396.3" y1="532.8" x2="396.1" y2="534.2" stroke="#999" stroke-width="0.6"/>
<line x1="407.6" y1="538.9" x2="407.4" y2="540.3" stroke="#999" stroke-width="0.6"/>
<line x1="418.9" y1="544.9" x2="418.7" y2="546.3" stroke="#999" stroke-width="0.6"/>
<line x1="430.1" y1="551.0" x2="429.9" y2="552.4" stroke="#999" stroke-width="0.6"/>
<line x1="441.4" y1="557.0" x2="441.2" y2="558.4" stroke="#999" stroke-width="0.6"/>
<line x1="452.7" y1="563.1" x2="452.5" y2="564.5" stroke="#999" stroke-width="0.6"/>
<line x1="464.0" y1="569.1" x2="463.8" y2="570.5" stroke="#999" stroke-width="0.6"/>
<polygon points="289.9,443.7 326.7,481.3 333.5,480.3 296.7,442.7" fill="#c3a689" stroke="#c3a689" stroke-width="0.6" stroke-linejoin="round"/>
<polygon points="326.7,481.3 364.7,502.0 371.5,501.0 333.5,480.3" fill="#c3a689" stroke="#c3a689" stroke-width="0.6" stroke-linejoin="round"/>
<polygon points="364.7,502.0 408.3,525.0 415.1,524.0 371.5,501.0" fill="#c3a689" stroke="#c3a689" stroke-width="0.6" stroke-linejoin="round"/>
<polygon points="408.3,525.0 469.3,557.5 476.1,556.5 415.1,524.0" fill="#c3a689" stroke="#c3a689" stroke-width="0.6" stroke-linejoin="round"/>
<polygon points="469.3,557.5 470.5,557.0 477.3,556.0 476.1,556.5" fill="#c3a689" stroke="#c3a689" stroke-width="0.6" stroke-linejoin="round"/>
<polygon points="470.5,567.8 470.5,557.0 477.3,556.0 477.3,566.8" fill="url(#capchk)"/>
<polygon points="289.9,471.1 289.9,443.7 326.7,481.3 364.7,502.0 408.3,525.0 469.3,557.5 470.5,557.0 470.5,567.8" fill="#fcd5b4" stroke="#fcd5b4" stroke-width="0.5" stroke-linejoin="round" />
<circle cx="291.5" cy="442.8" r="2.1" fill="#22ee22"/>
<circle cx="326.7" cy="481.3" r="2.1" fill="#22ee22"/>
<circle cx="364.7" cy="502.0" r="2.1" fill="#22ee22"/>
<circle cx="408.3" cy="525.0" r="2.1" fill="#22ee22"/>
<circle cx="469.3" cy="558.0" r="2.1" fill="#22ee22"/>
<polygon points="235.3,482.4 417.0,580.4 438.0,576.7 256.3,478.7" fill="#fff" stroke="#888" stroke-width="0.9"/>
<line x1="246.7" y1="488.5" x2="246.5" y2="489.9" stroke="#999" stroke-width="0.6"/>
<line x1="258.0" y1="494.7" x2="257.8" y2="496.1" stroke="#999" stroke-width="0.6"/>
<line x1="269.4" y1="500.8" x2="269.2" y2="502.2" stroke="#999" stroke-width="0.6"/>
<line x1="280.7" y1="506.9" x2="280.5" y2="508.3" stroke="#999" stroke-width="0.6"/>
<line x1="292.1" y1="513.0" x2="291.9" y2="514.4" stroke="#999" stroke-width="0.6"/>
<line x1="303.4" y1="519.1" x2="303.2" y2="520.5" stroke="#999" stroke-width="0.6"/>
<line x1="314.8" y1="525.3" x2="314.6" y2="526.7" stroke="#999" stroke-width="0.6"/>
<line x1="326.1" y1="531.4" x2="325.9" y2="532.8" stroke="#999" stroke-width="0.6"/>
<line x1="337.5" y1="537.5" x2="337.3" y2="538.9" stroke="#999" stroke-width="0.6"/>
<line x1="348.9" y1="543.6" x2="348.7" y2="545.0" stroke="#999" stroke-width="0.6"/>
<line x1="360.2" y1="549.8" x2="360.0" y2="551.2" stroke="#999" stroke-width="0.6"/>
<line x1="371.6" y1="555.9" x2="371.4" y2="557.3" stroke="#999" stroke-width="0.6"/>
<line x1="382.9" y1="562.0" x2="382.7" y2="563.4" stroke="#999" stroke-width="0.6"/>
<line x1="394.3" y1="568.1" x2="394.1" y2="569.5" stroke="#999" stroke-width="0.6"/>
<line x1="405.6" y1="574.3" x2="405.4" y2="575.7" stroke="#999" stroke-width="0.6"/>
<line x1="417.0" y1="580.4" x2="416.8" y2="581.8" stroke="#999" stroke-width="0.6"/>
<polygon points="241.8,453.1 263.3,480.2 271.3,479.1 249.8,452.0" fill="#c40000" stroke="#c40000" stroke-width="0.6" stroke-linejoin="round"/>
<polygon points="263.3,480.2 275.5,491.9 283.5,490.8 271.3,479.1" fill="#c40000" stroke="#c40000" stroke-width="0.6" stroke-linejoin="round"/>
<polygon points="275.5,491.9 289.6,499.4 297.6,498.3 283.5,490.8" fill="#c40000" stroke="#c40000" stroke-width="0.6" stroke-linejoin="round"/>
<polygon points="289.6,499.4 304.7,509.2 312.7,508.1 297.6,498.3" fill="#c40000" stroke="#c40000" stroke-width="0.6" stroke-linejoin="round"/>
<polygon points="304.7,509.2 316.9,513.5 324.9,512.4 312.7,508.1" fill="#c40000" stroke="#c40000" stroke-width="0.6" stroke-linejoin="round"/>
<polygon points="316.9,513.5 327.5,522.8 335.5,521.7 324.9,512.4" fill="#c40000" stroke="#c40000" stroke-width="0.6" stroke-linejoin="round"/>
<polygon points="327.5,522.8 338.6,500.0 346.6,498.9 335.5,521.7" fill="#c40000" stroke="#c40000" stroke-width="0.6" stroke-linejoin="round"/>
<polygon points="338.6,500.0 350.4,481.0 358.4,479.9 346.6,498.9" fill="#c40000" stroke="#c40000" stroke-width="0.6" stroke-linejoin="round"/>
<polygon points="350.4,481.0 359.8,533.3 367.8,532.2 358.4,479.9" fill="#c40000" stroke="#c40000" stroke-width="0.6" stroke-linejoin="round"/>
<polygon points="359.8,533.3 372.1,516.8 380.1,515.7 367.8,532.2" fill="#c40000" stroke="#c40000" stroke-width="0.6" stroke-linejoin="round"/>
<polygon points="372.1,516.8 386.2,555.6 394.2,554.5 380.1,515.7" fill="#c40000" stroke="#c40000" stroke-width="0.6" stroke-linejoin="round"/>
<polygon points="386.2,555.6 398.2,562.9 406.2,561.8 394.2,554.5" fill="#c40000" stroke="#c40000" stroke-width="0.6" stroke-linejoin="round"/>
<polygon points="398.2,562.9 409.7,566.0 417.7,564.9 406.2,561.8" fill="#c40000" stroke="#c40000" stroke-width="0.6" stroke-linejoin="round"/>
<polygon points="409.7,566.0 422.2,567.9 430.2,566.8 417.7,564.9" fill="#c40000" stroke="#c40000" stroke-width="0.6" stroke-linejoin="round"/>
<polygon points="422.2,567.9 423.5,567.4 431.5,566.3 430.2,566.8" fill="#c40000" stroke="#c40000" stroke-width="0.6" stroke-linejoin="round"/>
<polygon points="423.5,579.1 423.5,567.4 431.5,566.3 431.5,578.0" fill="#a00000"/>
<polygon points="241.8,481.1 241.8,453.1 263.3,480.2 275.5,491.9 289.6,499.4 304.7,509.2 316.9,513.5 327.5,522.8 338.6,500.0 350.4,481.0 359.8,533.3 372.1,516.8 386.2,555.6 398.2,562.9 409.7,566.0 422.2,567.9 423.5,567.4 423.5,579.1" fill="#ff0000" stroke="#ff0000" stroke-width="0.5" stroke-linejoin="round" />
<circle cx="243.5" cy="452.1" r="2.1" fill="#22ee22"/>
<circle cx="263.3" cy="480.2" r="2.1" fill="#22ee22"/>
<circle cx="275.5" cy="491.9" r="2.1" fill="#22ee22"/>
<circle cx="289.6" cy="499.4" r="2.1" fill="#22ee22"/>
<circle cx="304.7" cy="509.2" r="2.1" fill="#22ee22"/>
<circle cx="316.9" cy="513.5" r="2.1" fill="#22ee22"/>
<circle cx="327.5" cy="522.8" r="2.1" fill="#22ee22"/>
<circle cx="338.6" cy="500.0" r="2.1" fill="#22ee22"/>
<circle cx="350.4" cy="481.0" r="2.1" fill="#22ee22"/>
<circle cx="359.8" cy="533.3" r="2.1" fill="#22ee22"/>
<circle cx="372.1" cy="516.8" r="2.1" fill="#22ee22"/>
<circle cx="386.2" cy="555.6" r="2.1" fill="#22ee22"/>
<circle cx="398.2" cy="562.9" r="2.1" fill="#22ee22"/>
<circle cx="409.7" cy="566.0" r="2.1" fill="#22ee22"/>
<circle cx="422.2" cy="567.9" r="2.1" fill="#22ee22"/>
<polyline points="241.8,453.6 263.3,480.7 275.5,492.4 289.6,499.9 304.7,509.7 316.9,514 327.5,523.3" fill="none" stroke="#ff2a6a" stroke-width="0.7" opacity="0.9"/>
<polyline points="338.6,500.5 350.4,481.5 359.8,533.8 372.1,517.3 386.2,556.1" fill="none" stroke="#ff2a6a" stroke-width="0.7" opacity="0.9"/>
<line x1="256" y1="470" x2="256" y2="487" stroke="#d9a0a0" stroke-width="0.9" stroke-dasharray="2,2.5"/>
<line x1="373" y1="520.7" x2="373" y2="550.3" stroke="#d9a0a0" stroke-width="0.9" stroke-dasharray="2,2.5"/>
<circle cx="243.5" cy="452.1" r="2.1" fill="#22ee22"/>
<circle cx="263.3" cy="480.2" r="2.1" fill="#22ee22"/>
<circle cx="275.5" cy="491.9" r="2.1" fill="#22ee22"/>
<circle cx="289.6" cy="499.4" r="2.1" fill="#22ee22"/>
<circle cx="304.7" cy="509.2" r="2.1" fill="#22ee22"/>
<circle cx="316.9" cy="513.5" r="2.1" fill="#22ee22"/>
<circle cx="327.5" cy="522.8" r="2.1" fill="#22ee22"/>
<circle cx="338.6" cy="500" r="2.1" fill="#22ee22"/>
<circle cx="350.4" cy="481" r="2.1" fill="#22ee22"/>
<circle cx="359.8" cy="533.3" r="2.1" fill="#22ee22"/>
<circle cx="372.1" cy="516.8" r="2.1" fill="#22ee22"/>
<circle cx="386.2" cy="555.6" r="2.1" fill="#22ee22"/>
<polygon points="186.8,493.1 369.9,592.5 390.8,588.6 207.7,489.2" fill="#fff" stroke="#888" stroke-width="0.9"/>
<line x1="198.2" y1="499.3" x2="198.0" y2="500.7" stroke="#999" stroke-width="0.6"/>
<line x1="209.7" y1="505.5" x2="209.5" y2="506.9" stroke="#999" stroke-width="0.6"/>
<line x1="221.1" y1="511.7" x2="220.9" y2="513.1" stroke="#999" stroke-width="0.6"/>
<line x1="232.6" y1="518.0" x2="232.4" y2="519.4" stroke="#999" stroke-width="0.6"/>
<line x1="244.0" y1="524.2" x2="243.8" y2="525.6" stroke="#999" stroke-width="0.6"/>
<line x1="255.5" y1="530.4" x2="255.3" y2="531.8" stroke="#999" stroke-width="0.6"/>
<line x1="266.9" y1="536.6" x2="266.7" y2="538.0" stroke="#999" stroke-width="0.6"/>
<line x1="278.4" y1="542.8" x2="278.2" y2="544.2" stroke="#999" stroke-width="0.6"/>
<line x1="289.8" y1="549.0" x2="289.6" y2="550.4" stroke="#999" stroke-width="0.6"/>
<line x1="301.2" y1="555.2" x2="301.0" y2="556.6" stroke="#999" stroke-width="0.6"/>
<line x1="312.7" y1="561.4" x2="312.5" y2="562.8" stroke="#999" stroke-width="0.6"/>
<line x1="324.1" y1="567.6" x2="323.9" y2="569.0" stroke="#999" stroke-width="0.6"/>
<line x1="335.6" y1="573.9" x2="335.4" y2="575.3" stroke="#999" stroke-width="0.6"/>
<line x1="347.0" y1="580.1" x2="346.8" y2="581.5" stroke="#999" stroke-width="0.6"/>
<line x1="358.5" y1="586.3" x2="358.3" y2="587.7" stroke="#999" stroke-width="0.6"/>
<line x1="369.9" y1="592.5" x2="369.7" y2="593.9" stroke="#999" stroke-width="0.6"/>
<polygon points="193.3,413.6 216.8,487.3 224.7,486.0 201.2,412.3" fill="#0f5a9e" stroke="#0f5a9e" stroke-width="0.6" stroke-linejoin="round"/>
<polygon points="216.8,487.3 228.6,502.8 236.5,501.5 224.7,486.0" fill="#0f5a9e" stroke="#0f5a9e" stroke-width="0.6" stroke-linejoin="round"/>
<polygon points="228.6,502.8 255.0,521.6 262.9,520.3 236.5,501.5" fill="#0f5a9e" stroke="#0f5a9e" stroke-width="0.6" stroke-linejoin="round"/>
<polygon points="255.0,521.6 275.0,532.9 282.9,531.6 262.9,520.3" fill="#0f5a9e" stroke="#0f5a9e" stroke-width="0.6" stroke-linejoin="round"/>
<polygon points="275.0,532.9 300.0,546.5 307.9,545.2 282.9,531.6" fill="#0f5a9e" stroke="#0f5a9e" stroke-width="0.6" stroke-linejoin="round"/>
<polygon points="300.0,546.5 376.4,588.2 384.3,586.9 307.9,545.2" fill="#0f5a9e" stroke="#0f5a9e" stroke-width="0.6" stroke-linejoin="round"/>
<polygon points="376.4,591.2 376.4,588.2 384.3,586.9 384.3,589.9" fill="#0d4a82"/>
<polygon points="193.3,491.8 193.3,413.6 216.8,487.3 228.6,502.8 255.0,521.6 275.0,532.9 300.0,546.5 376.4,588.2 376.4,591.2" fill="url(#bldots)" stroke="#1468b6" stroke-width="0.5" stroke-linejoin="round" />
<circle cx="196.7" cy="412.9" r="2.1" fill="#22ee22"/>
<circle cx="219.9" cy="488.6" r="2.1" fill="#22ee22"/>
<circle cx="231.7" cy="503.8" r="2.1" fill="#22ee22"/>
<circle cx="261.0" cy="524.1" r="2.1" fill="#22ee22"/>
<circle cx="274.7" cy="531.8" r="2.1" fill="#22ee22"/>
<circle cx="284.6" cy="539.1" r="2.1" fill="#22ee22"/>
<circle cx="293.9" cy="544.0" r="2.1" fill="#22ee22"/>
<circle cx="307.1" cy="552.3" r="2.1" fill="#22ee22"/>
<circle cx="317.5" cy="557.3" r="2.1" fill="#22ee22"/>
<circle cx="328.3" cy="563.0" r="2.1" fill="#22ee22"/>
<circle cx="342.0" cy="570.8" r="2.1" fill="#22ee22"/>
<circle cx="352.4" cy="577.9" r="2.1" fill="#22ee22"/>
<circle cx="364.6" cy="583.6" r="2.1" fill="#22ee22"/>
<circle cx="376.3" cy="589.6" r="2.1" fill="#22ee22"/>
<text font-size="7.5" fill="#1a1a1a" text-anchor="end" transform="translate(191.0,497.5) rotate(-90)" stroke="#1a1a1a" stroke-width="0.22">23-Apr</text>
<text font-size="7.5" fill="#1a1a1a" text-anchor="end" transform="translate(201.0,503.1) rotate(-90)" stroke="#1a1a1a" stroke-width="0.22">30-Apr</text>
<text font-size="7.5" fill="#1a1a1a" text-anchor="end" transform="translate(211.2,508.7) rotate(-90)" stroke="#1a1a1a" stroke-width="0.22">7-May</text>
<line x1="208.6" y1="531.2" x2="208.6" y2="542.8" stroke="#333" stroke-width="0.7" stroke-dasharray="2,2"/>
<path d="M206.8 541.6L208.6 544.8L210.4 541.6" stroke="#333" stroke-width="0.7" fill="none"/>
<text font-size="7.5" fill="#1a1a1a" text-anchor="end" transform="translate(221.6,514.5) rotate(-90)" stroke="#1a1a1a" stroke-width="0.22">14-May</text>
<text font-size="7.5" fill="#1a1a1a" text-anchor="end" transform="translate(232.1,520.2) rotate(-90)" stroke="#1a1a1a" stroke-width="0.22">21-May</text>
<text font-size="7.5" fill="#1a1a1a" text-anchor="end" transform="translate(242.8,526.1) rotate(-90)" stroke="#1a1a1a" stroke-width="0.22">28-May</text>
<text font-size="7.5" fill="#1a1a1a" text-anchor="end" transform="translate(253.6,532.0) rotate(-90)" stroke="#1a1a1a" stroke-width="0.22">4-Jun</text>
<text font-size="7.5" fill="#1a1a1a" text-anchor="end" transform="translate(264.5,537.9) rotate(-90)" stroke="#1a1a1a" stroke-width="0.22">11-Jun</text>
<text font-size="7.5" fill="#1a1a1a" text-anchor="end" transform="translate(275.7,544.0) rotate(-90)" stroke="#1a1a1a" stroke-width="0.22">18-Jun</text>
<text font-size="7.5" fill="#1a1a1a" text-anchor="end" transform="translate(287.0,550.1) rotate(-90)" stroke="#1a1a1a" stroke-width="0.22">25-Jun</text>
<text font-size="7.5" fill="#1a1a1a" text-anchor="end" transform="translate(298.4,556.2) rotate(-90)" stroke="#1a1a1a" stroke-width="0.22">2-Jul</text>
<text font-size="7.5" fill="#1a1a1a" text-anchor="end" transform="translate(310.0,562.4) rotate(-90)" stroke="#1a1a1a" stroke-width="0.22">9-Jul</text>
<text font-size="7.5" fill="#1a1a1a" text-anchor="end" transform="translate(321.8,568.7) rotate(-90)" stroke="#1a1a1a" stroke-width="0.22">16-Jul</text>
<line x1="319.2" y1="591.7" x2="319.2" y2="606.2" stroke="#333" stroke-width="0.7" stroke-dasharray="2,2"/>
<path d="M317.4 605.0L319.2 608.2L321.0 605.0" stroke="#333" stroke-width="0.7" fill="none"/>
<text font-size="7.5" fill="#1a1a1a" text-anchor="end" transform="translate(333.7,575.0) rotate(-90)" stroke="#1a1a1a" stroke-width="0.22">23-Jul</text>
<text font-size="7.5" fill="#1a1a1a" text-anchor="end" transform="translate(345.7,581.4) rotate(-90)" stroke="#1a1a1a" stroke-width="0.22">30-Jul</text>
<text font-size="7.5" fill="#1a1a1a" text-anchor="end" transform="translate(358.0,587.9) rotate(-90)" stroke="#1a1a1a" stroke-width="0.22">6-Aug</text>
<text font-size="7.5" fill="#1a1a1a" text-anchor="end" transform="translate(370.3,594.4) rotate(-90)" stroke="#1a1a1a" stroke-width="0.22">13-Aug</text>
<text x="207.9" y="557.9" font-size="6.6" text-anchor="middle" fill="#222" font-weight="normal"  stroke="#222" stroke-width="0.22">PET Bone Scan</text>
<text x="320.5" y="619.7" font-size="6.6" text-anchor="middle" fill="#222" font-weight="normal"  stroke="#222" stroke-width="0.22">PET Bone Scan</text>
<text font-size="8.5" font-weight="bold" fill="#111" stroke="#111" stroke-width="0.12" text-anchor="middle" transform="translate(414.0,619.8) rotate(36)">Serum Marker</text>
<text font-size="8.5" font-weight="bold" fill="#111" stroke="#111" stroke-width="0.12" text-anchor="middle" transform="translate(406.5,628.4) rotate(36)">(PSA)</text>
<text font-size="8.5" font-weight="bold" fill="#111" stroke="#111" stroke-width="0.12" text-anchor="middle" transform="translate(471.2,613.0) rotate(36)">Weekly Monitoring</text>
<text font-size="8.5" font-weight="bold" fill="#111" stroke="#111" stroke-width="0.12" text-anchor="middle" transform="translate(463.5,620.7) rotate(36)">(CTC)</text>
<text font-size="8.7" font-weight="normal" fill="#111"  text-anchor="middle" transform="translate(518.5,596.0) rotate(36)" stroke="#111" stroke-width="0.22">Monthly Monitoring</text>
<text font-size="8.7" font-weight="normal" fill="#111"  text-anchor="middle" transform="translate(506.0,598.0) rotate(36)" stroke="#111" stroke-width="0.22">Simulation(1)</text>
<text font-size="10" font-weight="bold" fill="#111" stroke="#111" stroke-width="0.12" text-anchor="middle" transform="translate(566.7,631.5) rotate(36)">57.2%</text>
<text font-size="8.7" font-weight="normal" fill="#111"  text-anchor="middle" transform="translate(564.8,583.6) rotate(36)" stroke="#111" stroke-width="0.22">Monthly Monitoring</text>
<text font-size="8.7" font-weight="normal" fill="#111"  text-anchor="middle" transform="translate(556.1,589.6) rotate(36)" stroke="#111" stroke-width="0.22">Simulation (2)</text>
<text font-size="10" font-weight="bold" fill="#111" stroke="#111" stroke-width="0.12" text-anchor="middle" transform="translate(611.1,619.6) rotate(36)">21.4%</text>
<text font-size="8.7" font-weight="normal" fill="#111"  text-anchor="middle" transform="translate(608.5,571.4) rotate(36)" stroke="#111" stroke-width="0.22">Monthly Monitoring</text>
<text font-size="8.7" font-weight="normal" fill="#111"  text-anchor="middle" transform="translate(597.7,574.5) rotate(36)" stroke="#111" stroke-width="0.22">Simulation(3)</text>
<text font-size="10" font-weight="bold" fill="#111" stroke="#111" stroke-width="0.12" text-anchor="middle" transform="translate(652.2,604.6) rotate(36)">21.4%</text>
<rect x="275.6" y="347.8" width="85.9" height="60.2" fill="#000"/>
<rect x="276" y="381.7" width="36.6" height="26" fill="none" stroke="#3a2a2a" stroke-width="0.8"/>
<defs><linearGradient id="rb" x1="0" x2="1" y1="0" y2="0"><stop offset="0" stop-color="#ff2020"/><stop offset="0.4" stop-color="#ffffff"/><stop offset="0.65" stop-color="#3a5ad8"/><stop offset="1" stop-color="#2040c0"/></linearGradient></defs>
<ellipse cx="320.4" cy="360.1" rx="6.4" ry="4" fill="url(#rb)"/>
<ellipse cx="328.6" cy="369.4" rx="7" ry="4.6" fill="#1e3ed8"/>
<ellipse cx="291.6" cy="394" rx="7" ry="4.6" fill="#2cf08c"/>
<text x="279.8" y="367.6" font-size="5.6" font-weight="bold" fill="#ddd" textLength="15.4" lengthAdjust="spacingAndGlyphs" stroke="#ddd" stroke-width="0.22">CTCs</text>
<text x="318.4" y="396.6" font-size="5.6" font-weight="bold" fill="#ddd" textLength="13.4" lengthAdjust="spacingAndGlyphs" stroke="#ddd" stroke-width="0.22">WBC</text>
<path d="M295 365.2L310 361.5M295 365.2L313.5 368.8M307.5 360.2L310 361.5L307.8 363M311 367L313.5 368.8L310.6 369.8M316 394L303 393M305.5 391.6L303 393L305.5 394.5" stroke="#ccc" stroke-width="0.6" fill="none"/>
<line x1="321.4" y1="408" x2="349.6" y2="471.2" stroke="#111" stroke-width="1.2"/>
<ellipse cx="354.7" cy="480.8" rx="11.9" ry="10.6" fill="none" stroke="#111" stroke-width="1.4"/>
<rect x="436.1" y="332.1" width="62.5" height="81.1" fill="#fff" stroke="#111" stroke-width="2"/>
<path d="M461.8 349.1L471.8 349.1L482.8 354.1L487.8 364.1L488.8 391.1L485.8 411.1L447.8 411.1L444.8 391.1L445.8 364.1L450.8 354.1Z" fill="#f9f9f9"/>
<ellipse cx="466.8" cy="340.6" rx="6" ry="7" fill="#f4f4f4" stroke="#e8e8e8" stroke-width="0.8"/>
<path d="M451.8 356.1Q459.8 352.6 466.8 354.1Q473.8 352.6 481.8 356.1" stroke="#dcdcdc" stroke-width="1.6" fill="none"/>
<ellipse cx="451.8" cy="356.6" rx="2.5" ry="2" fill="#dedede"/><ellipse cx="481.8" cy="356.6" rx="2.5" ry="2" fill="#dedede"/>
<path d="M449.8 358.1L448.3 383.1M483.8 358.1L485.3 383.1" stroke="#eeeeee" stroke-width="2.6" fill="none"/>
<path d="M465.3 358.1Q456.8 357.1 455.8 362.1M468.3 358.1Q476.8 357.1 477.8 362.1" stroke="#e9e9e9" stroke-width="1" fill="none"/>
<path d="M465.3 361.70000000000005Q456.8 360.70000000000005 455.8 365.70000000000005M468.3 361.70000000000005Q476.8 360.70000000000005 477.8 365.70000000000005" stroke="#e9e9e9" stroke-width="1" fill="none"/>
<path d="M465.3 365.3Q456.8 364.3 455.8 369.3M468.3 365.3Q476.8 364.3 477.8 369.3" stroke="#e9e9e9" stroke-width="1" fill="none"/>
<path d="M465.3 368.90000000000003Q456.8 367.90000000000003 455.8 372.90000000000003M468.3 368.90000000000003Q476.8 367.90000000000003 477.8 372.90000000000003" stroke="#e9e9e9" stroke-width="1" fill="none"/>
<path d="M465.3 372.5Q456.8 371.5 455.8 376.5M468.3 372.5Q476.8 371.5 477.8 376.5" stroke="#e9e9e9" stroke-width="1" fill="none"/>
<path d="M465.3 376.1Q456.8 375.1 455.8 380.1M468.3 376.1Q476.8 375.1 477.8 380.1" stroke="#e9e9e9" stroke-width="1" fill="none"/>
<line x1="466.8" y1="347.1" x2="467.2" y2="391.1" stroke="#d0d0d0" stroke-width="2.2"/>
<circle cx="466.7" cy="347.6" r="0.6" fill="#b5b5b5"/>
<circle cx="467.0" cy="349.3" r="0.6" fill="#9a9a9a"/>
<circle cx="466.7" cy="351.0" r="0.6" fill="#9a9a9a"/>
<circle cx="467.2" cy="352.7" r="0.6" fill="#9a9a9a"/>
<circle cx="466.8" cy="354.4" r="0.6" fill="#b5b5b5"/>
<circle cx="466.6" cy="356.1" r="0.6" fill="#b5b5b5"/>
<circle cx="466.8" cy="357.8" r="0.6" fill="#9a9a9a"/>
<circle cx="467.0" cy="359.5" r="0.6" fill="#9a9a9a"/>
<circle cx="466.8" cy="361.2" r="0.6" fill="#9a9a9a"/>
<circle cx="467.3" cy="362.9" r="0.6" fill="#b5b5b5"/>
<circle cx="467.4" cy="364.6" r="0.6" fill="#b5b5b5"/>
<circle cx="467.2" cy="366.3" r="0.6" fill="#b5b5b5"/>
<circle cx="467.3" cy="368.0" r="0.6" fill="#b5b5b5"/>
<circle cx="467.3" cy="369.7" r="0.6" fill="#b5b5b5"/>
<circle cx="466.6" cy="371.4" r="0.6" fill="#9a9a9a"/>
<circle cx="466.7" cy="373.1" r="0.6" fill="#b5b5b5"/>
<circle cx="466.9" cy="374.8" r="0.6" fill="#9a9a9a"/>
<circle cx="467.0" cy="376.5" r="0.6" fill="#9a9a9a"/>
<circle cx="466.6" cy="378.2" r="0.6" fill="#b5b5b5"/>
<circle cx="466.9" cy="379.9" r="0.6" fill="#9a9a9a"/>
<circle cx="467.2" cy="381.6" r="0.6" fill="#b5b5b5"/>
<circle cx="467.0" cy="383.3" r="0.6" fill="#b5b5b5"/>
<circle cx="466.8" cy="385.0" r="0.6" fill="#b5b5b5"/>
<circle cx="467.2" cy="386.7" r="0.6" fill="#b5b5b5"/>
<circle cx="467.2" cy="388.4" r="0.6" fill="#b5b5b5"/>
<circle cx="466.6" cy="390.1" r="0.6" fill="#b5b5b5"/>
<path d="M456.8 388.1Q459.8 385.1 463.8 389.1L464.8 398.1Q459.8 399.1 457.8 395.1ZM476.8 388.1Q473.8 385.1 469.8 389.1L468.8 398.1Q473.8 399.1 475.8 395.1Z" fill="#f0f0f0" stroke="#bcbcbc" stroke-width="1"/>
<path d="M459.8 401.1Q462.8 405.1 466.8 403.1Q470.8 405.1 473.8 401.1" stroke="#c6c6c6" stroke-width="1.3" fill="none"/>
<path d="M457.8 401.1L458.8 412.1M475.8 401.1L474.8 412.1" stroke="#eaeaea" stroke-width="2.4" fill="none"/>
<circle cx="467.0" cy="378.2" r="0.5" fill="#e2e2e2"/>
<circle cx="468.0" cy="386.5" r="0.5" fill="#e2e2e2"/>
<circle cx="451.7" cy="362.9" r="0.5" fill="#e2e2e2"/>
<circle cx="478.4" cy="397.0" r="0.5" fill="#e2e2e2"/>
<circle cx="459.0" cy="399.6" r="0.5" fill="#e2e2e2"/>
<circle cx="451.3" cy="350.0" r="0.5" fill="#e2e2e2"/>
<circle cx="454.3" cy="386.6" r="0.5" fill="#e2e2e2"/>
<circle cx="455.9" cy="380.7" r="0.5" fill="#e2e2e2"/>
<circle cx="473.6" cy="376.4" r="0.5" fill="#e2e2e2"/>
<circle cx="451.6" cy="372.3" r="0.5" fill="#e2e2e2"/>
<circle cx="454.3" cy="403.1" r="0.5" fill="#e2e2e2"/>
<circle cx="470.2" cy="398.1" r="0.5" fill="#e2e2e2"/>
<circle cx="455.5" cy="392.2" r="0.5" fill="#e2e2e2"/>
<circle cx="472.5" cy="381.8" r="0.5" fill="#e2e2e2"/>
<circle cx="476.3" cy="380.1" r="0.5" fill="#e2e2e2"/>
<circle cx="463.4" cy="383.7" r="0.5" fill="#e2e2e2"/>
<circle cx="452.7" cy="367.0" r="0.5" fill="#e2e2e2"/>
<circle cx="460.6" cy="400.6" r="0.5" fill="#e2e2e2"/>
<circle cx="474.6" cy="374.1" r="0.5" fill="#e2e2e2"/>
<circle cx="478.9" cy="351.4" r="0.5" fill="#e2e2e2"/>
<circle cx="469.0" cy="359.4" r="0.5" fill="#e2e2e2"/>
<circle cx="473.3" cy="379.6" r="0.5" fill="#e2e2e2"/>
<circle cx="457.4" cy="389.5" r="0.5" fill="#e2e2e2"/>
<circle cx="454.1" cy="389.1" r="0.5" fill="#e2e2e2"/>
<circle cx="461.2" cy="401.4" r="0.5" fill="#e2e2e2"/>
<circle cx="457.2" cy="368.8" r="0.5" fill="#e2e2e2"/>
<circle cx="461.7" cy="361.9" r="0.5" fill="#e2e2e2"/>
<circle cx="480.6" cy="369.7" r="0.5" fill="#e2e2e2"/>
<circle cx="466.3" cy="408.2" r="0.5" fill="#e2e2e2"/>
<circle cx="453.5" cy="359.3" r="0.5" fill="#e2e2e2"/>
<circle cx="475.1" cy="385.1" r="0.5" fill="#e2e2e2"/>
<circle cx="461.7" cy="366.6" r="0.5" fill="#e2e2e2"/>
<circle cx="481.3" cy="402.3" r="0.5" fill="#e2e2e2"/>
<circle cx="454.1" cy="351.4" r="0.5" fill="#e2e2e2"/>
<circle cx="476.0" cy="398.8" r="0.5" fill="#e2e2e2"/>
<circle cx="475.8" cy="371.8" r="0.5" fill="#e2e2e2"/>
<circle cx="453.4" cy="365.1" r="0.5" fill="#e2e2e2"/>
<circle cx="480.4" cy="376.6" r="0.5" fill="#e2e2e2"/>
<circle cx="477.3" cy="349.8" r="0.5" fill="#e2e2e2"/>
<circle cx="454.5" cy="402.2" r="0.5" fill="#e2e2e2"/>
<circle cx="482.4" cy="374.4" r="0.5" fill="#e2e2e2"/>
<circle cx="458.5" cy="393.7" r="0.5" fill="#e2e2e2"/>
<circle cx="462.9" cy="407.3" r="0.5" fill="#e2e2e2"/>
<circle cx="458.9" cy="377.7" r="0.5" fill="#e2e2e2"/>
<circle cx="452.1" cy="349.7" r="0.5" fill="#e2e2e2"/>
<circle cx="469.9" cy="376.1" r="0.5" fill="#e2e2e2"/>
<circle cx="480.0" cy="407.3" r="0.5" fill="#e2e2e2"/>
<circle cx="457.7" cy="386.2" r="0.5" fill="#e2e2e2"/>
<circle cx="472.8" cy="388.8" r="0.5" fill="#e2e2e2"/>
<circle cx="460.6" cy="363.9" r="0.5" fill="#e2e2e2"/>
<circle cx="482.3" cy="376.0" r="0.5" fill="#e2e2e2"/>
<circle cx="480.9" cy="372.5" r="0.5" fill="#e2e2e2"/>
<circle cx="460.9" cy="399.9" r="0.5" fill="#e2e2e2"/>
<circle cx="461.5" cy="381.8" r="0.5" fill="#e2e2e2"/>
<circle cx="458.6" cy="350.3" r="0.5" fill="#e2e2e2"/>
<circle cx="468.4" cy="353.4" r="0.5" fill="#e2e2e2"/>
<circle cx="460.1" cy="396.6" r="0.5" fill="#e2e2e2"/>
<circle cx="455.7" cy="379.2" r="0.5" fill="#e2e2e2"/>
<circle cx="481.2" cy="359.5" r="0.5" fill="#e2e2e2"/>
<circle cx="477.1" cy="368.3" r="0.5" fill="#e2e2e2"/>
<ellipse cx="469.5" cy="394.6" rx="3.8" ry="4.4" fill="#050505"/>
<circle cx="466.5" cy="352" r="0.8" fill="#9a9a9a"/>
<circle cx="467.3" cy="362" r="0.9" fill="#9a9a9a"/>
<circle cx="470" cy="366" r="0.8" fill="#9a9a9a"/>
<circle cx="462" cy="376" r="1" fill="#9a9a9a"/>
<circle cx="472" cy="376" r="1" fill="#9a9a9a"/>
<circle cx="464" cy="388" r="0.7" fill="#9a9a9a"/>
<circle cx="473" cy="386" r="0.7" fill="#9a9a9a"/>
<circle cx="468.5" cy="370" r="0.7" fill="#9a9a9a"/>
<rect x="553.5" y="393.7" width="63.099999999999994" height="80.7" fill="#fff" stroke="#111" stroke-width="2"/>
<path d="M582 410.7L592 410.7L603 415.7L608 425.7L609 452.7L606 472.7L568 472.7L565 452.7L566 425.7L571 415.7Z" fill="#f9f9f9"/>
<ellipse cx="587" cy="402.2" rx="6" ry="7" fill="#f4f4f4" stroke="#e8e8e8" stroke-width="0.8"/>
<path d="M572 417.7Q580 414.2 587 415.7Q594 414.2 602 417.7" stroke="#dcdcdc" stroke-width="1.6" fill="none"/>
<ellipse cx="572" cy="418.2" rx="2.5" ry="2" fill="#c4c4c4"/><ellipse cx="602" cy="418.2" rx="2.5" ry="2" fill="#c4c4c4"/>
<path d="M570 419.7L568.5 444.7M604 419.7L605.5 444.7" stroke="#eeeeee" stroke-width="2.6" fill="none"/>
<path d="M585.5 419.7Q577 418.7 576 423.7M588.5 419.7Q597 418.7 598 423.7" stroke="#e9e9e9" stroke-width="1" fill="none"/>
<path d="M585.5 423.3Q577 422.3 576 427.3M588.5 423.3Q597 422.3 598 427.3" stroke="#e9e9e9" stroke-width="1" fill="none"/>
<path d="M585.5 426.9Q577 425.9 576 430.9M588.5 426.9Q597 425.9 598 430.9" stroke="#e9e9e9" stroke-width="1" fill="none"/>
<path d="M585.5 430.5Q577 429.5 576 434.5M588.5 430.5Q597 429.5 598 434.5" stroke="#e9e9e9" stroke-width="1" fill="none"/>
<path d="M585.5 434.09999999999997Q577 433.09999999999997 576 438.09999999999997M588.5 434.09999999999997Q597 433.09999999999997 598 438.09999999999997" stroke="#e9e9e9" stroke-width="1" fill="none"/>
<path d="M585.5 437.7Q577 436.7 576 441.7M588.5 437.7Q597 436.7 598 441.7" stroke="#e9e9e9" stroke-width="1" fill="none"/>
<line x1="587" y1="408.7" x2="587.4" y2="452.7" stroke="#b4b4b4" stroke-width="2.2"/>
<circle cx="587.1" cy="409.2" r="0.6" fill="#6a6a6a"/>
<circle cx="587.2" cy="410.9" r="0.6" fill="#6a6a6a"/>
<circle cx="586.8" cy="412.6" r="0.6" fill="#6a6a6a"/>
<circle cx="587.1" cy="414.3" r="0.6" fill="#909090"/>
<circle cx="587.3" cy="416.0" r="0.6" fill="#909090"/>
<circle cx="587.6" cy="417.7" r="0.6" fill="#6a6a6a"/>
<circle cx="586.9" cy="419.4" r="0.6" fill="#6a6a6a"/>
<circle cx="586.9" cy="421.1" r="0.6" fill="#909090"/>
<circle cx="587.2" cy="422.8" r="0.6" fill="#6a6a6a"/>
<circle cx="587.3" cy="424.5" r="0.6" fill="#6a6a6a"/>
<circle cx="587.2" cy="426.2" r="0.6" fill="#6a6a6a"/>
<circle cx="587.0" cy="427.9" r="0.6" fill="#909090"/>
<circle cx="587.4" cy="429.6" r="0.6" fill="#6a6a6a"/>
<circle cx="587.1" cy="431.3" r="0.6" fill="#909090"/>
<circle cx="586.8" cy="433.0" r="0.6" fill="#909090"/>
<circle cx="587.5" cy="434.7" r="0.6" fill="#6a6a6a"/>
<circle cx="587.3" cy="436.4" r="0.6" fill="#6a6a6a"/>
<circle cx="587.2" cy="438.1" r="0.6" fill="#909090"/>
<circle cx="587.3" cy="439.8" r="0.6" fill="#909090"/>
<circle cx="587.1" cy="441.5" r="0.6" fill="#909090"/>
<circle cx="586.9" cy="443.2" r="0.6" fill="#6a6a6a"/>
<circle cx="586.9" cy="444.9" r="0.6" fill="#6a6a6a"/>
<circle cx="586.9" cy="446.6" r="0.6" fill="#6a6a6a"/>
<circle cx="587.5" cy="448.3" r="0.6" fill="#909090"/>
<circle cx="587.1" cy="450.0" r="0.6" fill="#909090"/>
<circle cx="586.9" cy="451.7" r="0.6" fill="#6a6a6a"/>
<path d="M577 449.7Q580 446.7 584 450.7L585 459.7Q580 460.7 578 456.7ZM597 449.7Q594 446.7 590 450.7L589 459.7Q594 460.7 596 456.7Z" fill="#f0f0f0" stroke="#a6a6a6" stroke-width="1"/>
<path d="M580 462.7Q583 466.7 587 464.7Q591 466.7 594 462.7" stroke="#c6c6c6" stroke-width="1.3" fill="none"/>
<path d="M578 462.7L579 473.7M596 462.7L595 473.7" stroke="#eaeaea" stroke-width="2.4" fill="none"/>
<circle cx="589.9" cy="426.5" r="0.5" fill="#e2e2e2"/>
<circle cx="582.8" cy="444.7" r="0.5" fill="#e2e2e2"/>
<circle cx="587.5" cy="447.8" r="0.5" fill="#e2e2e2"/>
<circle cx="599.8" cy="457.5" r="0.5" fill="#e2e2e2"/>
<circle cx="583.6" cy="434.6" r="0.5" fill="#e2e2e2"/>
<circle cx="573.0" cy="414.7" r="0.5" fill="#e2e2e2"/>
<circle cx="581.9" cy="413.9" r="0.5" fill="#e2e2e2"/>
<circle cx="574.2" cy="432.5" r="0.5" fill="#e2e2e2"/>
<circle cx="590.7" cy="419.6" r="0.5" fill="#e2e2e2"/>
<circle cx="582.7" cy="418.1" r="0.5" fill="#e2e2e2"/>
<circle cx="585.9" cy="439.7" r="0.5" fill="#e2e2e2"/>
<circle cx="582.0" cy="426.6" r="0.5" fill="#e2e2e2"/>
<circle cx="571.7" cy="467.8" r="0.5" fill="#e2e2e2"/>
<circle cx="588.4" cy="412.3" r="0.5" fill="#e2e2e2"/>
<circle cx="598.6" cy="452.5" r="0.5" fill="#e2e2e2"/>
<circle cx="576.3" cy="457.0" r="0.5" fill="#e2e2e2"/>
<circle cx="581.5" cy="424.1" r="0.5" fill="#e2e2e2"/>
<circle cx="598.3" cy="459.1" r="0.5" fill="#e2e2e2"/>
<circle cx="578.3" cy="441.8" r="0.5" fill="#e2e2e2"/>
<circle cx="571.9" cy="427.5" r="0.5" fill="#e2e2e2"/>
<circle cx="601.6" cy="437.5" r="0.5" fill="#e2e2e2"/>
<circle cx="601.6" cy="432.6" r="0.5" fill="#e2e2e2"/>
<circle cx="577.3" cy="423.0" r="0.5" fill="#e2e2e2"/>
<circle cx="597.9" cy="439.5" r="0.5" fill="#e2e2e2"/>
<circle cx="573.7" cy="450.3" r="0.5" fill="#e2e2e2"/>
<circle cx="595.0" cy="439.4" r="0.5" fill="#e2e2e2"/>
<circle cx="581.6" cy="458.7" r="0.5" fill="#e2e2e2"/>
<circle cx="583.8" cy="467.5" r="0.5" fill="#e2e2e2"/>
<circle cx="575.1" cy="419.8" r="0.5" fill="#e2e2e2"/>
<circle cx="575.7" cy="460.3" r="0.5" fill="#e2e2e2"/>
<circle cx="582.2" cy="443.6" r="0.5" fill="#e2e2e2"/>
<circle cx="602.1" cy="449.7" r="0.5" fill="#e2e2e2"/>
<circle cx="584.9" cy="463.0" r="0.5" fill="#e2e2e2"/>
<circle cx="579.1" cy="428.3" r="0.5" fill="#e2e2e2"/>
<circle cx="579.3" cy="435.8" r="0.5" fill="#e2e2e2"/>
<circle cx="582.3" cy="438.2" r="0.5" fill="#e2e2e2"/>
<circle cx="584.5" cy="465.8" r="0.5" fill="#e2e2e2"/>
<circle cx="587.8" cy="411.8" r="0.5" fill="#e2e2e2"/>
<circle cx="571.1" cy="458.7" r="0.5" fill="#e2e2e2"/>
<circle cx="594.2" cy="444.1" r="0.5" fill="#e2e2e2"/>
<circle cx="588.8" cy="457.8" r="0.5" fill="#e2e2e2"/>
<circle cx="579.0" cy="427.3" r="0.5" fill="#e2e2e2"/>
<circle cx="589.0" cy="456.3" r="0.5" fill="#e2e2e2"/>
<circle cx="590.6" cy="441.0" r="0.5" fill="#e2e2e2"/>
<circle cx="585.5" cy="442.7" r="0.5" fill="#e2e2e2"/>
<circle cx="593.4" cy="463.3" r="0.5" fill="#e2e2e2"/>
<circle cx="588.9" cy="467.3" r="0.5" fill="#e2e2e2"/>
<circle cx="574.9" cy="437.2" r="0.5" fill="#e2e2e2"/>
<circle cx="573.3" cy="450.9" r="0.5" fill="#e2e2e2"/>
<circle cx="575.9" cy="453.7" r="0.5" fill="#e2e2e2"/>
<circle cx="599.3" cy="468.8" r="0.5" fill="#e2e2e2"/>
<circle cx="583.7" cy="439.9" r="0.5" fill="#e2e2e2"/>
<circle cx="576.2" cy="436.6" r="0.5" fill="#e2e2e2"/>
<circle cx="577.3" cy="429.8" r="0.5" fill="#e2e2e2"/>
<circle cx="588.7" cy="437.1" r="0.5" fill="#e2e2e2"/>
<circle cx="591.0" cy="441.4" r="0.5" fill="#e2e2e2"/>
<circle cx="596.2" cy="469.0" r="0.5" fill="#e2e2e2"/>
<circle cx="572.3" cy="457.4" r="0.5" fill="#e2e2e2"/>
<circle cx="584.5" cy="465.4" r="0.5" fill="#e2e2e2"/>
<circle cx="575.8" cy="465.9" r="0.5" fill="#e2e2e2"/>
<ellipse cx="586.9" cy="404.6" rx="0.9" ry="0.9" fill="#151515"/>
<ellipse cx="569.8" cy="418.8" rx="1" ry="1" fill="#151515"/>
<ellipse cx="586" cy="422.7" rx="1.3" ry="1.1" fill="#151515"/>
<ellipse cx="585" cy="431.8" rx="1" ry="1" fill="#151515"/>
<ellipse cx="596.3" cy="432.4" rx="1" ry="0.8" fill="#151515"/>
<ellipse cx="580.1" cy="442.1" rx="1.5" ry="1.2" fill="#151515"/>
<ellipse cx="592.4" cy="442.1" rx="1.1" ry="1.5" fill="#151515"/>
<ellipse cx="585.3" cy="458.9" rx="2.8" ry="1.6" fill="#151515"/>
<ellipse cx="576.9" cy="464.7" rx="0.9" ry="0.9" fill="#151515"/>
<ellipse cx="594.3" cy="457.6" rx="0.9" ry="0.9" fill="#151515"/>
<ellipse cx="586.5" cy="414" rx="0.8" ry="0.8" fill="#151515"/>
<ellipse cx="586" cy="440" rx="0.8" ry="0.8" fill="#151515"/>
<line x1="579.5" y1="410.4" x2="583.2" y2="407.5" stroke="#3a86cc" stroke-width="1.1"/>
<path d="M585.3 405.9L584.2 408.8L582.3 406.2Z" fill="#3a86cc"/>
<line x1="562.7" y1="425.3" x2="566.4" y2="422.4" stroke="#3a86cc" stroke-width="1.1"/>
<path d="M568.5 420.8L567.4 423.7L565.5 421.1Z" fill="#3a86cc"/>
<line x1="575" y1="435.6" x2="578.5" y2="433.7" stroke="#3a86cc" stroke-width="1.1"/>
<path d="M580.8 432.4L579.3 435.1L577.8 432.3Z" fill="#3a86cc"/>
<line x1="603.4" y1="435.6" x2="599.2" y2="437.7" stroke="#3a86cc" stroke-width="1.1"/>
<path d="M596.9 438.9L598.5 436.3L599.9 439.1Z" fill="#3a86cc"/>
<line x1="574.3" y1="447.9" x2="577.9" y2="445.5" stroke="#3a86cc" stroke-width="1.1"/>
<path d="M580.1 444L578.8 446.8L577.0 444.1Z" fill="#3a86cc"/>
<line x1="598.9" y1="446" x2="594.6" y2="448.5" stroke="#3a86cc" stroke-width="1.1"/>
<path d="M592.4 449.8L593.8 447.1L595.5 449.9Z" fill="#3a86cc"/>
<line x1="606" y1="460.2" x2="600.7" y2="458.8" stroke="#3a86cc" stroke-width="1.1"/>
<path d="M598.2 458.2L601.1 457.3L600.3 460.4Z" fill="#3a86cc"/>
<line x1="569.8" y1="471.2" x2="574.4" y2="467.1" stroke="#3a86cc" stroke-width="1.1"/>
<path d="M576.3 465.4L575.4 468.3L573.3 465.9Z" fill="#3a86cc"/>
<line x1="468.5" y1="415.2" x2="468.5" y2="425.7" stroke="#6a6a6a" stroke-width="1.2"/>
<path d="M465.9 424.7L471.1 424.7L468.5 428.7Z" fill="#6a6a6a"/>
<line x1="585.2" y1="476.4" x2="585.2" y2="489.3" stroke="#6a6a6a" stroke-width="1.2"/>
<path d="M582.6 488.3L587.8000000000001 488.3L585.2 492.3Z" fill="#6a6a6a"/>
</svg>
</body></html>
